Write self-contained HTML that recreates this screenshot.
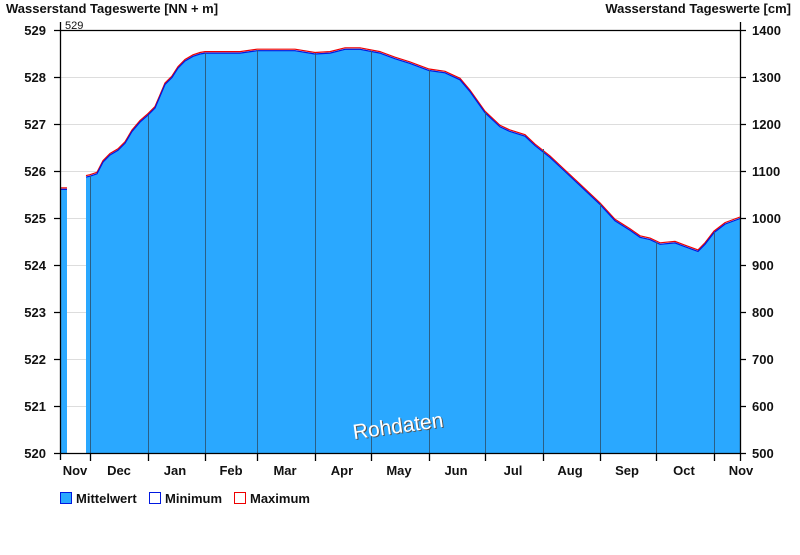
<!DOCTYPE html>
<html><head><meta charset="utf-8"><style>
body{margin:0;background:#fff}
text{font-family:"Liberation Sans",Arial,sans-serif;font-weight:bold;fill:#111}
</style></head><body>
<svg width="800" height="550" viewBox="0 0 800 550" xmlns="http://www.w3.org/2000/svg">
<rect width="800" height="550" fill="#fff"/>
<text x="6" y="13" font-size="13">Wasserstand Tageswerte [NN + m]</text>
<text x="791" y="13" font-size="13" text-anchor="end">Wasserstand Tageswerte [cm]</text>
<text x="65" y="29" font-size="11" font-weight="normal" style="font-weight:normal">529</text>
<g stroke="#ddd" stroke-width="1">
<line x1="60" x2="740" y1="77.5" y2="77.5"/><line x1="60" x2="740" y1="124.5" y2="124.5"/>
<line x1="60" x2="740" y1="171.5" y2="171.5"/><line x1="60" x2="740" y1="218.5" y2="218.5"/>
<line x1="60" x2="740" y1="265.5" y2="265.5"/><line x1="60" x2="740" y1="312.5" y2="312.5"/>
<line x1="60" x2="740" y1="359.5" y2="359.5"/><line x1="60" x2="740" y1="406.5" y2="406.5"/>
</g>
<path d="M60,188.9 L67,188.9 L67,453 L60,453Z" fill="#2aa8ff"/>
<path d="M86,176.6 L90,175.7 L97,173.3 L103,161.6 L110,154.5 L118,149.8 L125,142.8 L132,131 L140,121.6 L148,114.6 L155,107.5 L160,95.8 L165,84 L172,77 L178,67.6 L185,60.5 L193,55.8 L200,53.5 L205,52.6 L240,52.6 L257,50.2 L295,50.2 L315,53.5 L330,52.6 L345,48.8 L360,48.8 L380,52.6 L395,58.2 L410,62.9 L429,70 L445,72.3 L460,79.3 L470,91.1 L485,112.2 L500,126.3 L510,131 L525,135.7 L535,145.1 L550,156.9 L565,171 L580,185.1 L600,203.9 L615,220.3 L630,229.7 L640,236.8 L650,239.1 L660,243.8 L675,242.4 L685,246.2 L698,250.9 L705,243.8 L714,232.1 L725,223.6 L740,218 L740,453 L86,453Z" fill="#2aa8ff"/>
<g stroke="#e00" stroke-width="1.2" fill="none" transform="translate(0,-1)">
<path d="M60,188.9 L67,188.9"/>
<path d="M86,176.6 L90,175.7 L97,173.3 L103,161.6 L110,154.5 L118,149.8 L125,142.8 L132,131 L140,121.6 L148,114.6 L155,107.5 L160,95.8 L165,84 L172,77 L178,67.6 L185,60.5 L193,55.8 L200,53.5 L205,52.6 L240,52.6 L257,50.2 L295,50.2 L315,53.5 L330,52.6 L345,48.8 L360,48.8 L380,52.6 L395,58.2 L410,62.9 L429,70 L445,72.3 L460,79.3 L470,91.1 L485,112.2 L500,126.3 L510,131 L525,135.7 L535,145.1 L550,156.9 L565,171 L580,185.1 L600,203.9 L615,220.3 L630,229.7 L640,236.8 L650,239.1 L660,243.8 L675,242.4 L685,246.2 L698,250.9 L705,243.8 L714,232.1 L725,223.6 L740,218"/>
</g>
<g stroke="#0018e0" stroke-width="1.2" fill="none" transform="translate(0,0.5)">
<path d="M60,188.9 L67,188.9"/>
<path d="M86,176.6 L90,175.7 L97,173.3 L103,161.6 L110,154.5 L118,149.8 L125,142.8 L132,131 L140,121.6 L148,114.6 L155,107.5 L160,95.8 L165,84 L172,77 L178,67.6 L185,60.5 L193,55.8 L200,53.5 L205,52.6 L240,52.6 L257,50.2 L295,50.2 L315,53.5 L330,52.6 L345,48.8 L360,48.8 L380,52.6 L395,58.2 L410,62.9 L429,70 L445,72.3 L460,79.3 L470,91.1 L485,112.2 L500,126.3 L510,131 L525,135.7 L535,145.1 L550,156.9 L565,171 L580,185.1 L600,203.9 L615,220.3 L630,229.7 L640,236.8 L650,239.1 L660,243.8 L675,242.4 L685,246.2 L698,250.9 L705,243.8 L714,232.1 L725,223.6 L740,218"/>
</g>
<g stroke="#2a5f86" stroke-width="1">
<line x1="90.5" x2="90.5" y1="176" y2="453"/><line x1="148.5" x2="148.5" y1="115" y2="453"/>
<line x1="205.5" x2="205.5" y1="53" y2="453"/><line x1="257.5" x2="257.5" y1="50" y2="453"/>
<line x1="315.5" x2="315.5" y1="53" y2="453"/><line x1="371.5" x2="371.5" y1="51" y2="453"/>
<line x1="429.5" x2="429.5" y1="70" y2="453"/><line x1="485.5" x2="485.5" y1="112" y2="453"/>
<line x1="543.5" x2="543.5" y1="149" y2="453"/><line x1="600.5" x2="600.5" y1="204" y2="453"/>
<line x1="656.5" x2="656.5" y1="242" y2="453"/><line x1="714.5" x2="714.5" y1="232" y2="453"/>
</g>
<g stroke="#000" stroke-width="1.3" fill="none">
<line x1="60.5" x2="60.5" y1="22" y2="460"/>
<line x1="740.5" x2="740.5" y1="22" y2="453"/>
<line x1="54" x2="746" y1="453.5" y2="453.5"/>
<line x1="60" x2="740" y1="30.5" y2="30.5"/>
<path d="M54,30.5h6M54,77.5h6M54,124.5h6M54,171.5h6M54,218.5h6M54,265.5h6M54,312.5h6M54,359.5h6M54,406.5h6"/>
<path d="M740,30.5h6M740,77.5h6M740,124.5h6M740,171.5h6M740,218.5h6M740,265.5h6M740,312.5h6M740,359.5h6M740,406.5h6"/>
<path d="M90.5,453v8M148.5,453v8M205.5,453v8M257.5,453v8M315.5,453v8M371.5,453v8M429.5,453v8M485.5,453v8M543.5,453v8M600.5,453v8M656.5,453v8M714.5,453v8M740.5,453v8"/>
</g>
<g font-size="13" text-anchor="end">
<text x="46" y="35">529</text><text x="46" y="82">528</text><text x="46" y="129">527</text>
<text x="46" y="176">526</text><text x="46" y="223">525</text><text x="46" y="270">524</text>
<text x="46" y="317">523</text><text x="46" y="364">522</text><text x="46" y="411">521</text>
<text x="46" y="458">520</text>
</g>
<g font-size="13">
<text x="752" y="35">1400</text><text x="752" y="82">1300</text><text x="752" y="129">1200</text>
<text x="752" y="176">1100</text><text x="752" y="223">1000</text><text x="752" y="270">900</text>
<text x="752" y="317">800</text><text x="752" y="364">700</text><text x="752" y="411">600</text>
<text x="752" y="458">500</text>
</g>
<g font-size="13" text-anchor="middle">
<text x="75" y="475">Nov</text><text x="119" y="475">Dec</text><text x="175" y="475">Jan</text>
<text x="231" y="475">Feb</text><text x="285" y="475">Mar</text><text x="342" y="475">Apr</text>
<text x="399" y="475">May</text><text x="456" y="475">Jun</text><text x="513" y="475">Jul</text>
<text x="570" y="475">Aug</text><text x="627" y="475">Sep</text><text x="684" y="475">Oct</text>
<text x="741" y="475">Nov</text>
</g>
<text x="398" y="433" font-size="21" text-anchor="middle" transform="rotate(-8 398 426)" style="fill:#555;font-weight:normal" dx="1" dy="1">Rohdaten</text>
<text x="398" y="433" font-size="21" text-anchor="middle" transform="rotate(-8 398 426)" style="fill:#fff;font-weight:normal">Rohdaten</text>
<rect x="60.5" y="492.5" width="11" height="11" fill="#2aa8ff" stroke="#0018e0"/>
<text x="76" y="503" font-size="13">Mittelwert</text>
<rect x="149.5" y="492.5" width="11" height="11" fill="#fff" stroke="#0018e0"/>
<text x="165" y="503" font-size="13">Minimum</text>
<rect x="234.5" y="492.5" width="11" height="11" fill="#fff" stroke="#e00"/>
<text x="250" y="503" font-size="13">Maximum</text>
</svg>
</body></html>
